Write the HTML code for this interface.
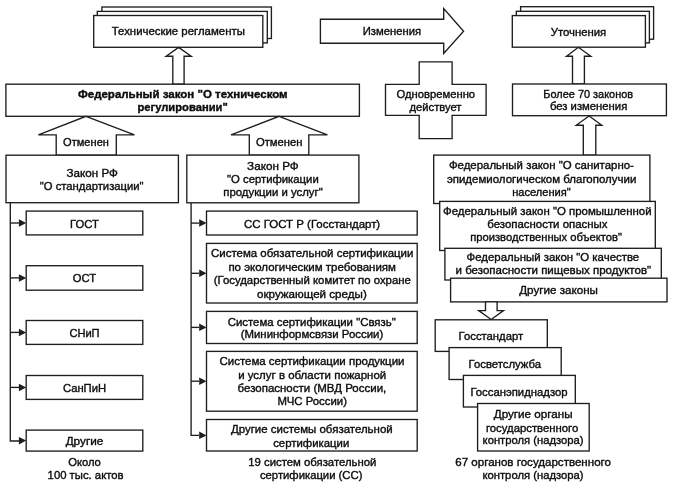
<!DOCTYPE html>
<html><head><meta charset="utf-8"><style>
html,body{margin:0;padding:0;background:#fff;width:676px;height:490px;overflow:hidden}
svg{display:block;will-change:transform}
text{font-family:"Liberation Sans",sans-serif;font-size:11.5px;fill:#0c0c0c;stroke:#0c0c0c;stroke-width:0.38;text-anchor:middle}
</style></head><body>
<svg width="676" height="490" viewBox="0 0 676 490">
<g stroke="#1e1e1e" stroke-width="1.35" stroke-linejoin="miter">
<rect x="101.9" y="7.0" width="169.5" height="31.5" fill="#fff"/>
<rect x="97.3" y="11.4" width="170.0" height="31.5" fill="#fff"/>
<rect x="93.7" y="15.5" width="169.1" height="31.8" fill="#fff"/>
<polygon points="320.4,19.2 443.7,19.2 443.7,8.6 463.6,31.2 443.7,53.5 443.7,43.2 320.4,43.2" fill="#fff"/>
<rect x="520.6" y="6.7" width="133.0" height="32.5" fill="#fff"/>
<rect x="516.3" y="11.3" width="133.1" height="31.6" fill="#fff"/>
<rect x="512.3" y="15.6" width="133.1" height="31.6" fill="#fff"/>
<polygon points="178.6,47.4 191.2,56.2 184.1,56.2 184.1,84.2 172.8,84.2 172.8,56.2 166.1,56.2" fill="#fff"/>
<polygon points="578.4,47.3 590.8,56.2 584.4,56.2 584.4,84.0 572.5,84.0 572.5,56.2 566.5,56.2" fill="#fff"/>
<rect x="5.9" y="84.2" width="353.5" height="32.1" fill="#fff"/>
<polygon points="419.2,61.8 452.1,61.8 452.1,84.4 486.1,84.4 486.1,115.3 452.1,115.3 452.1,138.6 419.2,138.6 419.2,115.3 385.5,115.3 385.5,84.4 419.2,84.4" fill="#fff"/>
<rect x="512.5" y="84.0" width="153.9" height="31.7" fill="#fff"/>
<polygon points="589.1,116.0 601.8,125.2 595.8,125.2 595.8,155.1 583.3,155.1 583.3,125.2 576.2,125.2" fill="#fff"/>
<polygon points="86.0,116.3 134.5,134.8 116.3,134.8 116.3,155.2 56.2,155.2 56.2,134.8 38.4,134.8" fill="#fff"/>
<polygon points="279.1,116.3 327.4,134.8 308.8,134.8 308.8,155.1 249.3,155.1 249.3,134.8 231.0,134.8" fill="#fff"/>
<rect x="6.0" y="155.2" width="172.4" height="47.5" fill="#fff"/>
<rect x="186.8" y="155.1" width="172.1" height="47.7" fill="#fff"/>
<polyline points="10.3,202.7 10.3,441.0 19.0,441.0" fill="none"/>
<rect x="26.2" y="211.1" width="116.6" height="23.8" fill="#fff"/>
<polyline points="10.3,223.0 19.0,223.0" fill="none"/>
<polygon points="18.9,219.2 26.2,223.0 18.9,226.8" fill="#1e1e1e" stroke="none"/>
<rect x="26.2" y="265.7" width="116.6" height="24.5" fill="#fff"/>
<polyline points="10.3,277.9 19.0,277.9" fill="none"/>
<polygon points="18.9,274.2 26.2,277.9 18.9,281.7" fill="#1e1e1e" stroke="none"/>
<rect x="26.2" y="320.5" width="116.6" height="23.9" fill="#fff"/>
<polyline points="10.3,332.4 19.0,332.4" fill="none"/>
<polygon points="18.9,328.7 26.2,332.4 18.9,336.2" fill="#1e1e1e" stroke="none"/>
<rect x="26.2" y="375.5" width="116.6" height="23.9" fill="#fff"/>
<polyline points="10.3,387.4 19.0,387.4" fill="none"/>
<polygon points="18.9,383.7 26.2,387.4 18.9,391.2" fill="#1e1e1e" stroke="none"/>
<rect x="26.2" y="430.1" width="116.6" height="21.0" fill="#fff"/>
<polygon points="18.9,436.9 26.2,440.6 18.9,444.4" fill="#1e1e1e" stroke="none"/>
<polyline points="191.1,202.8 191.1,435.4 199.0,435.4" fill="none"/>
<rect x="206.5" y="211.1" width="210.7" height="23.9" fill="#fff"/>
<polyline points="191.1,223.1 199.0,223.1" fill="none"/>
<polygon points="199.2,219.3 206.5,223.1 199.2,226.8" fill="#1e1e1e" stroke="none"/>
<rect x="206.5" y="243.4" width="210.7" height="59.6" fill="#fff"/>
<polyline points="191.1,273.3 199.0,273.3" fill="none"/>
<polygon points="199.2,269.6 206.5,273.3 199.2,277.1" fill="#1e1e1e" stroke="none"/>
<rect x="206.5" y="311.4" width="210.7" height="32.1" fill="#fff"/>
<polyline points="191.1,327.4 199.0,327.4" fill="none"/>
<polygon points="199.2,323.6 206.5,327.4 199.2,331.1" fill="#1e1e1e" stroke="none"/>
<rect x="206.5" y="351.4" width="210.7" height="59.8" fill="#fff"/>
<polyline points="191.1,381.2 199.0,381.2" fill="none"/>
<polygon points="199.2,377.4 206.5,381.2 199.2,384.9" fill="#1e1e1e" stroke="none"/>
<rect x="206.5" y="419.5" width="210.7" height="31.5" fill="#fff"/>
<polygon points="199.2,431.6 206.5,435.4 199.2,439.1" fill="#1e1e1e" stroke="none"/>
<rect x="433.7" y="155.1" width="216.2" height="48.4" fill="#fff"/>
<rect x="439.7" y="201.4" width="215.6" height="49.1" fill="#fff"/>
<rect x="444.9" y="248.3" width="216.4" height="31.7" fill="#fff"/>
<rect x="450.6" y="278.2" width="216.4" height="23.7" fill="#fff"/>
<polygon points="485.5,301.9 497.1,301.9 497.1,310.6 503.5,310.6 491.2,319.5 478.7,310.6 485.5,310.6" fill="#fff"/>
<rect x="435.2" y="319.8" width="112.1" height="31.6" fill="#fff"/>
<rect x="449.1" y="347.6" width="112.1" height="31.9" fill="#fff"/>
<rect x="463.4" y="375.4" width="111.9" height="31.6" fill="#fff"/>
<rect x="477.6" y="403.5" width="111.6" height="47.5" fill="#fff"/>
</g>
<g>
<text x="178.3" y="35.3" textLength="133.1" lengthAdjust="spacingAndGlyphs">Технические регламенты</text>
<text x="391.9" y="35.3" textLength="58.2" lengthAdjust="spacingAndGlyphs">Изменения</text>
<text x="578.5" y="35.5" textLength="55.5" lengthAdjust="spacingAndGlyphs">Уточнения</text>
<text x="182.8" y="97.5" textLength="209.7" lengthAdjust="spacingAndGlyphs" font-weight="bold">Федеральный закон &quot;О техническом</text>
<text x="182.6" y="110.5" textLength="90.3" lengthAdjust="spacingAndGlyphs" font-weight="bold">регулировании&quot;</text>
<text x="435.8" y="97.5" textLength="78.6" lengthAdjust="spacingAndGlyphs">Одновременно</text>
<text x="435.5" y="110.5" textLength="52.0" lengthAdjust="spacingAndGlyphs">действует</text>
<text x="588.2" y="98.0" textLength="89.7" lengthAdjust="spacingAndGlyphs">Более 70 законов</text>
<text x="588.6" y="110.2" textLength="77.4" lengthAdjust="spacingAndGlyphs">без изменения</text>
<text x="86.0" y="145.7" textLength="45.9" lengthAdjust="spacingAndGlyphs">Отменен</text>
<text x="279.2" y="145.6" textLength="46.5" lengthAdjust="spacingAndGlyphs">Отменен</text>
<text x="92.2" y="176.6" textLength="51.5" lengthAdjust="spacingAndGlyphs">Закон РФ</text>
<text x="91.7" y="189.6" textLength="103.8" lengthAdjust="spacingAndGlyphs">&quot;О стандартизации&quot;</text>
<text x="272.9" y="169.6" textLength="51.7" lengthAdjust="spacingAndGlyphs">Закон РФ</text>
<text x="272.9" y="182.8" textLength="91.6" lengthAdjust="spacingAndGlyphs">&quot;О сертификации</text>
<text x="273.0" y="195.9" textLength="99.4" lengthAdjust="spacingAndGlyphs">продукции и услуг&quot;</text>
<text x="84.5" y="227.6" textLength="28.8" lengthAdjust="spacingAndGlyphs">ГОСТ</text>
<text x="84.5" y="282.1" textLength="23.3" lengthAdjust="spacingAndGlyphs">ОСТ</text>
<text x="84.5" y="336.8" textLength="30.2" lengthAdjust="spacingAndGlyphs">СНиП</text>
<text x="84.5" y="391.7" textLength="43.2" lengthAdjust="spacingAndGlyphs">СанПиН</text>
<text x="84.5" y="445.3" textLength="37.7" lengthAdjust="spacingAndGlyphs">Другие</text>
<text x="84.5" y="465.9" textLength="32.6" lengthAdjust="spacingAndGlyphs">Около</text>
<text x="85.6" y="479.4" textLength="76.0" lengthAdjust="spacingAndGlyphs">100 тыс. актов</text>
<text x="312.1" y="227.6" textLength="136.2" lengthAdjust="spacingAndGlyphs">СС ГОСТ Р (Госстандарт)</text>
<text x="312.2" y="256.9" textLength="202.4" lengthAdjust="spacingAndGlyphs">Система обязательной сертификации</text>
<text x="312.2" y="270.6" textLength="167.6" lengthAdjust="spacingAndGlyphs">по экологическим требованиям</text>
<text x="312.3" y="284.0" textLength="197.2" lengthAdjust="spacingAndGlyphs">(Государственный комитет по охране</text>
<text x="311.9" y="297.7" textLength="109.7" lengthAdjust="spacingAndGlyphs">окружающей среды)</text>
<text x="311.7" y="325.5" textLength="168.0" lengthAdjust="spacingAndGlyphs">Система сертификации &quot;Связь&quot;</text>
<text x="312.0" y="337.8" textLength="142.6" lengthAdjust="spacingAndGlyphs">(Мининформсвязи России)</text>
<text x="312.0" y="365.2" textLength="185.1" lengthAdjust="spacingAndGlyphs">Система сертификации продукции</text>
<text x="312.2" y="378.9" textLength="148.0" lengthAdjust="spacingAndGlyphs">и услуг в области пожарной</text>
<text x="311.9" y="391.8" textLength="148.7" lengthAdjust="spacingAndGlyphs">безопасности (МВД России,</text>
<text x="312.2" y="405.2" textLength="69.6" lengthAdjust="spacingAndGlyphs">МЧС России)</text>
<text x="311.8" y="433.0" textLength="161.8" lengthAdjust="spacingAndGlyphs">Другие системы обязательной</text>
<text x="311.2" y="446.5" textLength="76.1" lengthAdjust="spacingAndGlyphs">сертификации</text>
<text x="312.3" y="465.9" textLength="128.2" lengthAdjust="spacingAndGlyphs">19 систем обязательной</text>
<text x="311.2" y="479.1" textLength="102.5" lengthAdjust="spacingAndGlyphs">сертификации (СС)</text>
<text x="541.4" y="168.8" textLength="185.0" lengthAdjust="spacingAndGlyphs">Федеральный закон &quot;О санитарно-</text>
<text x="541.6" y="182.6" textLength="189.4" lengthAdjust="spacingAndGlyphs">эпидемиологическом благополучии</text>
<text x="541.5" y="195.7" textLength="58.5" lengthAdjust="spacingAndGlyphs">населения&quot;</text>
<text x="547.3" y="215.3" textLength="208.6" lengthAdjust="spacingAndGlyphs">Федеральный закон &quot;О промышленной</text>
<text x="547.4" y="228.3" textLength="120.2" lengthAdjust="spacingAndGlyphs">безопасности опасных</text>
<text x="546.1" y="241.0" textLength="151.8" lengthAdjust="spacingAndGlyphs">производственных объектов&quot;</text>
<text x="552.9" y="260.6" textLength="172.6" lengthAdjust="spacingAndGlyphs">Федеральный закон &quot;О качестве</text>
<text x="553.3" y="273.9" textLength="195.6" lengthAdjust="spacingAndGlyphs">и безопасности пищевых продуктов&quot;</text>
<text x="558.6" y="294.0" textLength="78.8" lengthAdjust="spacingAndGlyphs">Другие законы</text>
<text x="490.9" y="340.0" textLength="64.6" lengthAdjust="spacingAndGlyphs">Госстандарт</text>
<text x="504.8" y="368.1" textLength="72.5" lengthAdjust="spacingAndGlyphs">Госветслужба</text>
<text x="519.0" y="395.9" textLength="97.1" lengthAdjust="spacingAndGlyphs">Госсанэпиднадзор</text>
<text x="533.2" y="418.2" textLength="78.8" lengthAdjust="spacingAndGlyphs">Другие органы</text>
<text x="532.1" y="431.5" textLength="92.3" lengthAdjust="spacingAndGlyphs">государственного</text>
<text x="533.1" y="444.2" textLength="101.0" lengthAdjust="spacingAndGlyphs">контроля (надзора)</text>
<text x="533.1" y="465.8" textLength="155.7" lengthAdjust="spacingAndGlyphs">67 органов государственного</text>
<text x="533.0" y="479.1" textLength="101.1" lengthAdjust="spacingAndGlyphs">контроля (надзора)</text>
</g>
</svg>
</body></html>
